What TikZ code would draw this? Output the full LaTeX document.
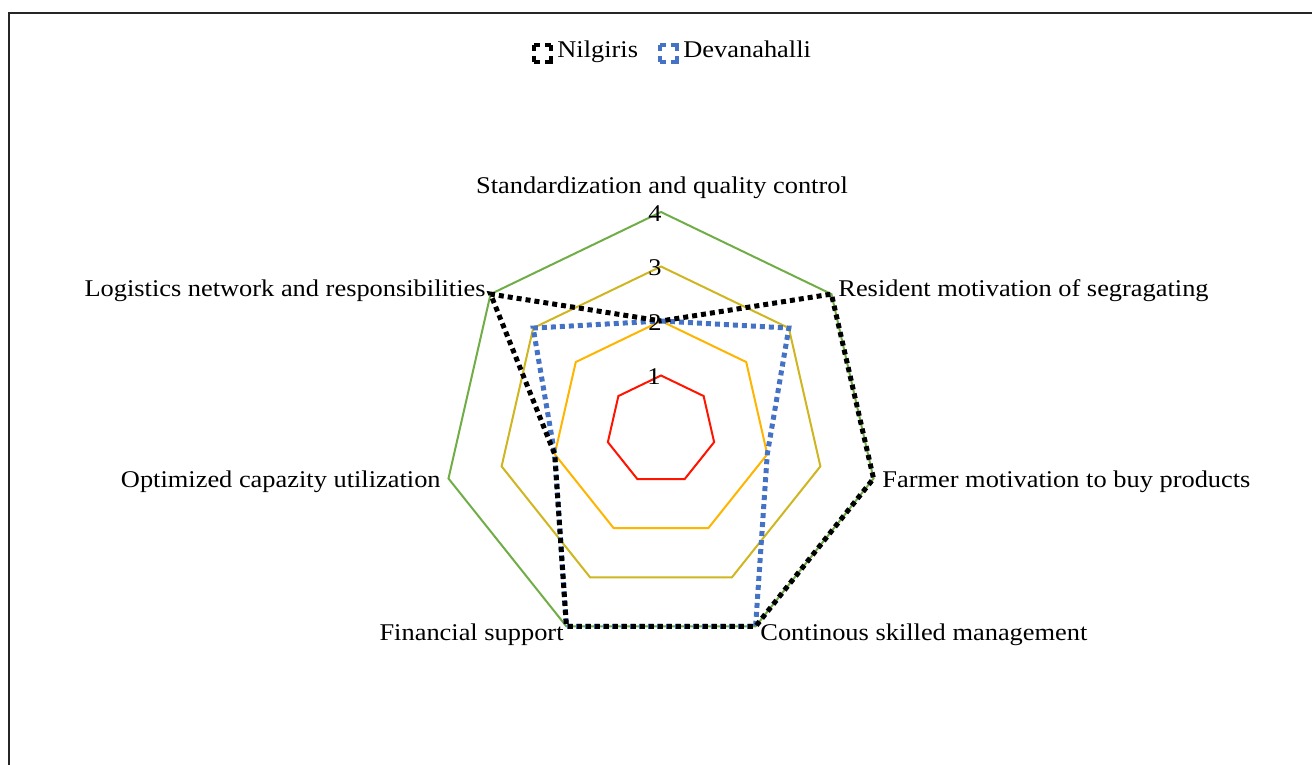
\documentclass[tikz,border=0pt]{standalone}
\usepackage{fontspec}
\setmainfont[FakeStretch=1.1]{Liberation Serif}
\definecolor{lvlone}{HTML}{FF1400}
\definecolor{lvltwo}{HTML}{FFB400}
\definecolor{lvlthree}{HTML}{CFB620}
\definecolor{lvlfour}{HTML}{70AD47}
\definecolor{devblue}{HTML}{4472C4}
\tikzset{
  gridline/.style={line width=1pt, line join=miter},
  series/.style={line width=2.5pt, dash pattern=on 2.5pt off 2pt, line join=miter},
  legkey/.style={line width=2pt, dash pattern=on 3pt off 2.5pt on 3pt off 0pt},
  axlabel/.style={inner sep=0pt, font=\fontsize{12}{14}\selectfont},
  numlabel/.style={inner sep=0pt, font=\fontsize{12}{14}\selectfont, anchor=base east},
}
\newcommand\radarring[2]{%
  \draw[gridline,#2] ({661+#1*cos(90)},{430-#1*sin(90)})
    \foreach \k in {1,...,6}{ -- ({661+#1*cos(90-\k*360/7)},{430-#1*sin(90-\k*360/7)}) } -- cycle;}
\begin{document}
\begin{tikzpicture}[x=0.5pt,y=-0.5pt]
\useasboundingbox (0,0) rectangle (1312,765);
% frame
\draw[line width=1pt, black!85] (9,765) -- (9,13.5) -- (1312,13.5);
% grid rings
\radarring{54.5}{lvlone}
\radarring{109}{lvltwo}
\radarring{163.5}{lvlthree}
\radarring{218}{lvlfour}
% data points
\foreach \k/\v in {0/2,1/4,2/4,3/4,4/4,5/2,6/4}{
  \coordinate (N\k) at ({661+\v*54.5*cos(90-\k*360/7)},{430-\v*54.5*sin(90-\k*360/7)});}
\foreach \k/\v in {0/2,1/3,2/2,3/4,4/4,5/2,6/3}{
  \coordinate (D\k) at ({661+\v*54.5*cos(90-\k*360/7)},{430-\v*54.5*sin(90-\k*360/7)});}
\draw[series, devblue] (D0) -- (D1) -- (D2) -- (D3) -- (D4) -- (D5) -- (D6) -- cycle;
\draw[series, black, dash phase=2.25pt] (N0) -- (N1) -- (N2) -- (N3) -- (N4) -- (N5) -- (N6) -- cycle;
% scale numbers
\node[numlabel] (n1) at (661,384) {1};
\node[numlabel] (n2) at (662,330) {2};
\node[numlabel] (n3) at (662,275) {3};
\node[numlabel] (n4) at (662,221) {4};
% axis labels
\node[axlabel, anchor=base] (l0) at (662,193) {Standardization and quality control};
\node[axlabel, anchor=base west] (l1) at (838,296) {Resident motivation of segragating};
\node[axlabel, anchor=base west] (l2) at (882,487) {Farmer motivation to buy products};
\node[axlabel, anchor=base west] (l3) at (760,640) {Continous skilled management};
\node[axlabel, anchor=base east] (l4) at (564,640) {Financial support};
\node[axlabel, anchor=base east] (l5) at (441,487) {Optimized capazity utilization};
\node[axlabel, anchor=base east] (l6) at (486,296) {Logistics network and responsibilities};
% legend
\draw[legkey, black] (534,45) rectangle (551,62);
\node[axlabel, anchor=base west] (legN) at (557,58) {Nilgiris};
\draw[legkey, devblue] (660,45) rectangle (677,62);
\node[axlabel, anchor=base west] (legD) at (683,58) {Devanahalli};
\end{tikzpicture}
\end{document}
